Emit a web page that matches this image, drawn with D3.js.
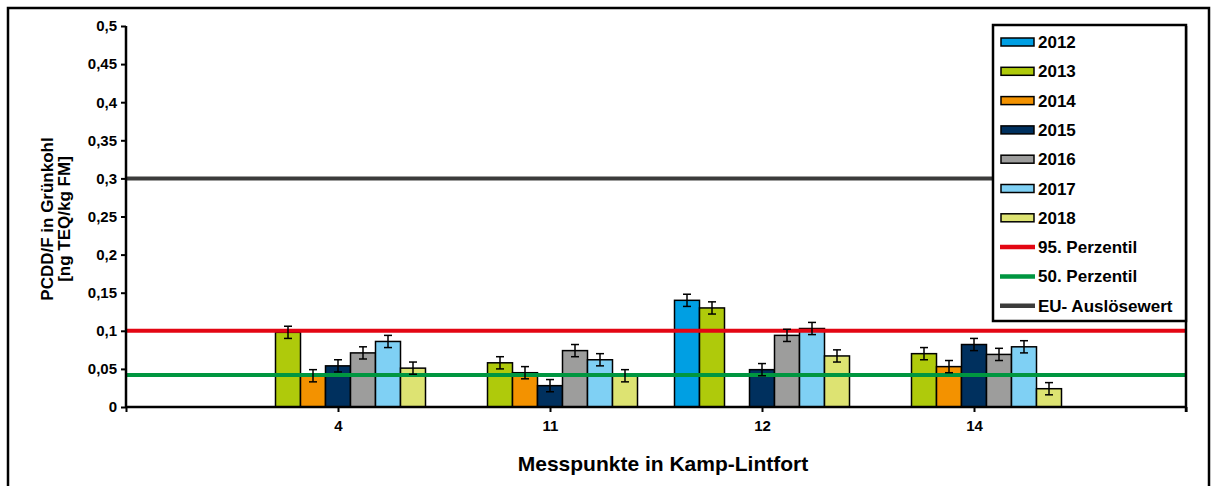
<!DOCTYPE html>
<html>
<head>
<meta charset="utf-8">
<script src="https://cdn.jsdelivr.net/npm/d3@7"></script>
<style>
  body { margin: 0; background: #fff; }
  svg { display: block; font-family: "Liberation Sans", Arial, sans-serif; font-weight: bold; }
</style>
</head>
<body>
<svg id="chart" width="1212" height="486"></svg>
<script>
'use strict';

// data
var categories = ['4', '11', '12', '14'];
var years = ['2012', '2013', '2014', '2015', '2016', '2017', '2018'];
var v2012 = [null, null, 0.140, null];
var v2013 = [0.098, 0.058, 0.130, 0.070];
var v2014 = [0.041, 0.045, null, 0.053];
var v2015 = [0.054, 0.028, 0.049, 0.082];
var v2016 = [0.071, 0.074, 0.094, 0.069];
var v2017 = [0.086, 0.062, 0.103, 0.079];
var v2018 = [0.051, 0.041, 0.067, 0.024];
var errors = [0.008, 0.008, 0.008, 0.008, 0.008, 0.008, 0.008];
var yTicks = [0, 0.05, 0.1, 0.15, 0.2, 0.25, 0.3, 0.35, 0.4, 0.45, 0.5];
var refNames = ['95. Perzentil', '50. Perzentil', 'EU- Auslösewert'];
var refValues = [0.1, 0.042, 0.3];

var series = [v2012, v2013, v2014, v2015, v2016, v2017, v2018];
var yearColors = ['#009fe3', '#afca0b', '#f39200', '#00305e', '#9d9d9c', '#7fd0f4', '#dde372'];
var refColors = ['#e30613', '#009640', '#3c3c3b'];

(function() {
var svg = d3.select('#chart');
var pLeft = 126, pRight = 1186, pTop = 26, pBottom = 407;

// outer frame
svg.append('rect')
  .attr('x', 8).attr('y', 8)
  .attr('width', 1201).attr('height', 500)
  .attr('fill', 'none').attr('stroke', '#000').attr('stroke-width', 2.5);

// empty slots at both ends, like the original category axis
var x = d3.scalePoint()
  .domain(['_a'].concat(categories, ['_b']))
  .range([pLeft, pRight]);

var sub = d3.scaleBand()
  .domain(years)
  .range([-87.5, 87.5]);

var y = d3.scaleLinear()
  .domain([0, 0.5])
  .range([pBottom, pTop]);

// bars
var rows = [];
series.forEach(function(vals, si) {
  vals.forEach(function(v, ci) {
    if (v !== null) rows.push({ year: years[si], si: si, cat: categories[ci], v: v, e: errors[si] });
  });
});

svg.append('g').selectAll('rect')
  .data(rows)
  .enter()
  .append('rect')
  .attr('x', function(d) { return x(d.cat) + sub(d.year); })
  .attr('y', function(d) { return y(d.v); })
  .attr('width', sub.bandwidth())
  .attr('height', function(d) { return y(0) - y(d.v); })
  .attr('fill', function(d) { return yearColors[d.si]; })
  .attr('stroke', '#000')
  .attr('stroke-width', 1.5);

// reference lines
svg.append('g').selectAll('line')
  .data(refValues)
  .enter()
  .append('line')
  .attr('x1', pLeft).attr('x2', pRight)
  .attr('y1', function(d) { return y(d); })
  .attr('y2', function(d) { return y(d); })
  .attr('stroke', function(d, i) { return refColors[i]; })
  .attr('stroke-width', 4);

// error bars
var err = svg.append('g').attr('stroke', '#000').attr('stroke-width', 1.5);
rows.forEach(function(d) {
  var cx = x(d.cat) + sub(d.year) + sub.bandwidth() / 2;
  err.append('line').attr('x1', cx).attr('x2', cx).attr('y1', y(d.v + d.e)).attr('y2', y(d.v - d.e));
  err.append('line').attr('x1', cx - 4).attr('x2', cx + 4).attr('y1', y(d.v + d.e)).attr('y2', y(d.v + d.e));
  err.append('line').attr('x1', cx - 4).attr('x2', cx + 4).attr('y1', y(d.v - d.e)).attr('y2', y(d.v - d.e));
});

// axes
var yAxis = svg.append('g')
  .attr('transform', 'translate(' + pLeft + ',0)')
  .call(d3.axisLeft(y).tickValues(yTicks).tickSize(5).tickPadding(4)
    .tickFormat(function(d) { return String(d).replace('.', ','); }));

var xAxis = svg.append('g')
  .attr('transform', 'translate(0,' + pBottom + ')')
  .call(d3.axisBottom(x).tickSize(5).tickPadding(8)
    .tickFormat(function(d) { return d.charAt(0) === '_' ? '' : d; }));

[yAxis, xAxis].forEach(function(a) {
  a.select('.domain').attr('stroke', '#000').attr('stroke-width', 2.5);
  a.selectAll('.tick line').attr('stroke', '#000').attr('stroke-width', 2);
  a.selectAll('.tick text').attr('fill', '#000')
    .style('font-size', '15px').style('font-weight', 'bold')
    .style('font-family', '"Liberation Sans", Arial, sans-serif');
});
xAxis.select('.domain').attr('d', 'M' + pLeft + ',0H' + pRight);
yAxis.select('.domain').attr('d', 'M0,' + pTop + 'V' + pBottom);

// right-hand axis line
svg.append('line')
  .attr('x1', pRight).attr('x2', pRight)
  .attr('y1', pTop).attr('y2', pBottom + 5)
  .attr('stroke', '#000').attr('stroke-width', 2.5);

// axis titles
svg.append('text')
  .attr('x', 663).attr('y', 471)
  .attr('text-anchor', 'middle')
  .style('font-size', '21px')
  .text('Messpunkte in Kamp-Lintfort');

svg.append('text')
  .attr('transform', 'translate(47,219) rotate(-90)')
  .attr('text-anchor', 'middle').attr('dominant-baseline', 'central')
  .style('font-size', '17px')
  .text('PCDD/F in Grünkohl');
svg.append('text')
  .attr('transform', 'translate(64,219) rotate(-90)')
  .attr('text-anchor', 'middle').attr('dominant-baseline', 'central')
  .style('font-size', '17px')
  .text('[ng TEQ/kg FM]');

// legend
var legend = svg.append('g');
legend.append('rect')
  .attr('x', 993).attr('y', 25)
  .attr('width', 193).attr('height', 296)
  .attr('fill', '#fff').attr('stroke', '#000').attr('stroke-width', 2.5);

var items = years.map(function(yr, i) { return { name: yr, color: yearColors[i], bar: true }; })
  .concat(refNames.map(function(n, i) { return { name: n, color: refColors[i], bar: false }; }));

var li = legend.selectAll('g.item')
  .data(items)
  .enter()
  .append('g')
  .attr('class', 'item')
  .attr('transform', function(d, i) { return 'translate(0,' + (42 + i * 29.3) + ')'; });

li.filter(function(d) { return d.bar; })
  .append('rect')
  .attr('x', 1001).attr('y', -4)
  .attr('width', 33).attr('height', 8)
  .attr('fill', function(d) { return d.color; })
  .attr('stroke', '#000').attr('stroke-width', 1.5);

li.filter(function(d) { return !d.bar; })
  .append('line')
  .attr('x1', 1000).attr('x2', 1035)
  .attr('stroke', function(d) { return d.color; })
  .attr('stroke-width', 4.5);

li.append('text')
  .attr('x', 1038).attr('y', 6)
  .style('font-size', '17px')
  .text(function(d) { return d.name; });
})();
</script>
</body>
</html>
